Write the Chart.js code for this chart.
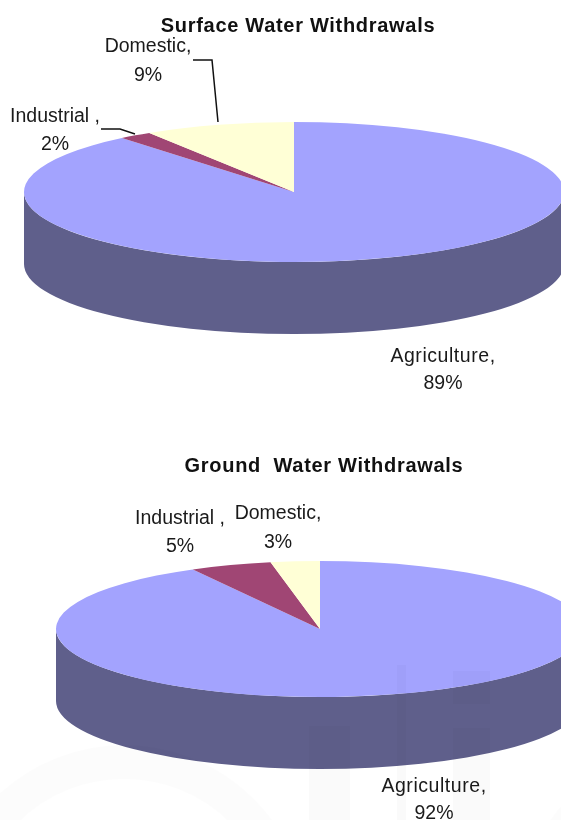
<!DOCTYPE html>
<html>
<head>
<meta charset="utf-8">
<title>Water Withdrawals</title>
<script src="https://cdn.jsdelivr.net/npm/chart.js@4/dist/chart.umd.min.js"></script>
<style>
  html, body { margin: 0; padding: 0; background: #fff; overflow: hidden; }
  #wrap { position: relative; width: 561px; height: 820px; overflow: hidden; }
  canvas { position: absolute; left: 0; }
  /* faint logo sitting over the lower part of the page */
  .mark { position: absolute; background: rgba(0, 0, 0, 0.02); }
  .ring { position: absolute; border: 34px solid rgba(0, 0, 0, 0.01); border-radius: 50%; }
</style>
</head>
<body>
<div id="wrap">
  <canvas id="surface-chart" width="561" height="410" style="top:0"></canvas>
  <canvas id="ground-chart" width="561" height="410" style="top:410px"></canvas>
  <div class="mark" style="left:309px;top:726px;width:41px;height:94px"></div>
  <div class="mark" style="left:397px;top:665px;width:9px;height:155px"></div>
  <div class="mark" style="left:453px;top:671px;width:37px;height:33px"></div>
  <div class="mark" style="left:453px;top:728px;width:37px;height:92px"></div>
  <div class="ring" style="left:-60px;top:745px;width:300px;height:300px"></div>
  <div class="ring" style="left:528px;top:760px;width:200px;height:200px"></div>
</div>
<script>
const categories = ["Agriculture", "Industrial", "Domestic"];
const surfaceValues = [89, 2, 9];
const groundValues = [92, 5, 3];
const sliceColors = ["#a3a3fe", "#a04674", "#ffffd6"];
const wallColors = ["#5f5f8b", "#60293f", "#99997f"];

const labelFont = '19.5px "Liberation Sans", Arial, sans-serif';
const titleFont = 'bold 20px "Liberation Sans", Arial, sans-serif';

// Tilts the flat pie into an ellipse and puts a side wall under it
const tiltPlugin = {
  id: "tilt",
  beforeDatasetDraw(chart, args, opts) {
    const ctx = chart.ctx;
    const arcs = args.meta.data;
    const cx = arcs[0].x;
    const r = arcs[0].outerRadius;

    ctx.save();
    arcs.forEach((arc, i) => {
      const from = Math.max(arc.startAngle, 0);
      const to = Math.min(arc.endAngle, Math.PI);
      if (to <= from) return;
      ctx.fillStyle = wallColors[i];
      ctx.beginPath();
      ctx.ellipse(cx, opts.cy, r, opts.ry, 0, from, to);
      ctx.ellipse(cx, opts.cy + opts.depth, r, opts.ry, 0, to, from, true);
      ctx.closePath();
      ctx.fill();
    });

    ctx.translate(0, opts.cy);
    ctx.scale(1, opts.ry / r);
    ctx.translate(0, -arcs[0].y);
    args.meta.controller.draw();
    ctx.restore();
    return false; // already drawn here, skips the default clip
  },
  afterDraw(chart, args, opts) {
    const ctx = chart.ctx;
    ctx.save();
    ctx.textAlign = "center";
    ctx.textBaseline = "alphabetic";

    ctx.fillStyle = "#111";
    ctx.font = titleFont;
    ctx.letterSpacing = "0.7px";
    ctx.fillText(opts.title[0], opts.title[1], opts.title[2]);

    ctx.fillStyle = "#1a1a1a";
    ctx.font = labelFont;
    opts.labels.forEach(([text, x, y, spacing]) => {
      ctx.letterSpacing = spacing || "0px";
      ctx.fillText(text, x, y);
    });

    ctx.strokeStyle = "#111";
    ctx.lineWidth = 1.5;
    opts.leaders.forEach((pts) => {
      ctx.beginPath();
      pts.forEach(([x, y], i) => (i ? ctx.lineTo(x, y) : ctx.moveTo(x, y)));
      ctx.stroke();
    });
    ctx.restore();
  },
};
Chart.register(tiltPlugin);

const makePie = (id, values, padLeft, tilt) =>
  new Chart(document.getElementById(id), {
    type: "pie",
    data: {
      labels: categories,
      datasets: [
        {
          data: values,
          backgroundColor: sliceColors,
          borderWidth: 0,
          radius: tilt.radius,
        },
      ],
    },
    options: {
      responsive: false,
      animation: false,
      events: [],
      layout: { padding: { left: padLeft } },
      plugins: {
        legend: { display: false },
        tooltip: { enabled: false },
        tilt: tilt,
      },
    },
  });

makePie("surface-chart", surfaceValues, 27, {
  radius: 270,
  cy: 192,
  ry: 70,
  depth: 72,
  title: ["Surface Water Withdrawals", 298, 32],
  labels: [
    ["Domestic,", 148, 52],
    [surfaceValues[2] + "%", 148, 81],
    ["Industrial ,", 55, 122],
    [surfaceValues[1] + "%", 55, 150],
    ["Agriculture,", 443, 362, "0.55px"],
    [surfaceValues[0] + "%", 443, 389],
  ],
  leaders: [
    [[193, 60], [212, 60], [218, 122]],
    [[101, 129], [120, 129], [135, 134]],
  ],
});

makePie("ground-chart", groundValues, 79, {
  radius: 264,
  cy: 219,
  ry: 68,
  depth: 72,
  title: ["Ground  Water Withdrawals", 324, 62],
  labels: [
    ["Industrial ,", 180, 114],
    [groundValues[1] + "%", 180, 142],
    ["Domestic,", 278, 109],
    [groundValues[2] + "%", 278, 138],
    ["Agriculture,", 434, 382, "0.55px"],
    [groundValues[0] + "%", 434, 409],
  ],
  leaders: [],
});
</script>
</body>
</html>
